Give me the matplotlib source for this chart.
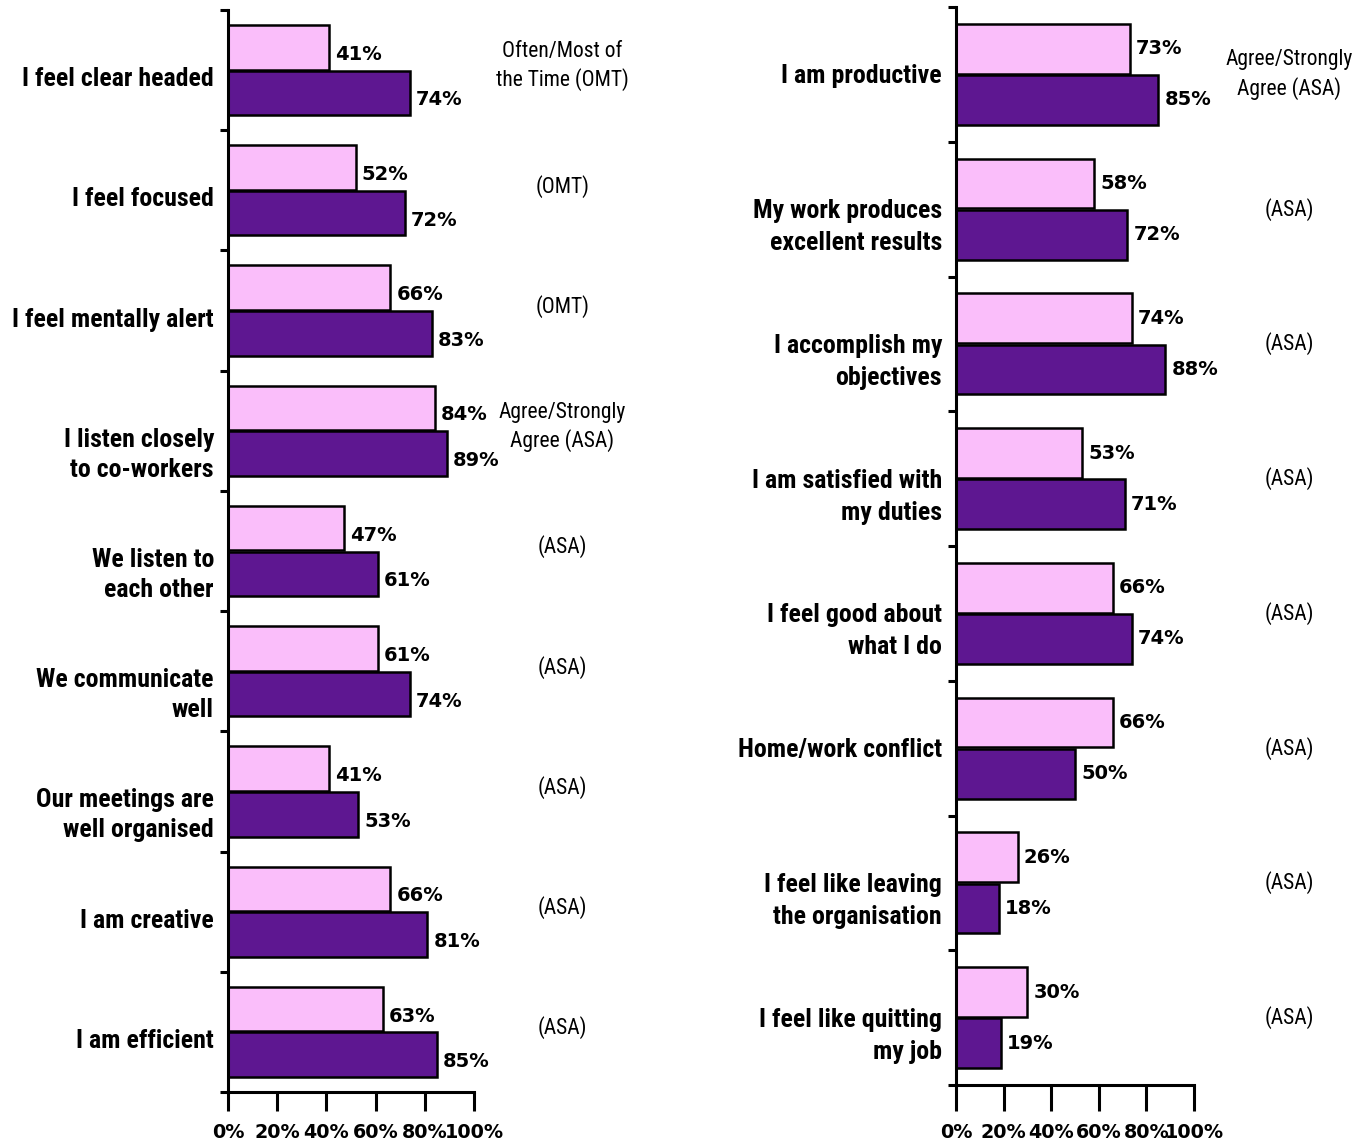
import matplotlib
matplotlib.use("Agg")
import matplotlib.pyplot as plt
from matplotlib import font_manager as fm

# ---------------- data ----------------
left_categories = ["I feel clear headed", "I feel focused", "I feel mentally alert",
                   "I listen closely\nto co-workers", "We listen to\neach other",
                   "We communicate\nwell", "Our meetings are\nwell organised",
                   "I am creative", "I am efficient"]
left_before = [41, 52, 66, 84, 47, 61, 41, 66, 63]
left_after = [74, 72, 83, 89, 61, 74, 53, 81, 85]
left_notes = ["Often/Most of\nthe Time (OMT)", "(OMT)", "(OMT)",
              "Agree/Strongly\nAgree (ASA)", "(ASA)", "(ASA)", "(ASA)", "(ASA)", "(ASA)"]

right_categories = ["I am productive", "My work produces\nexcellent results",
                    "I accomplish my\nobjectives", "I am satisfied with\nmy duties",
                    "I feel good about\nwhat I do", "Home/work conflict",
                    "I feel like leaving\nthe organisation", "I feel like quitting\nmy job"]
right_before = [73, 58, 74, 53, 66, 66, 26, 30]
right_after = [85, 72, 88, 71, 74, 50, 18, 19]
right_notes = ["Agree/Strongly\nAgree (ASA)", "(ASA)", "(ASA)", "(ASA)", "(ASA)",
               "(ASA)", "(ASA)", "(ASA)"]

x_ticks = [0, 20, 40, 60, 80, 100]
x_ticklabels = ["0%", "20%", "40%", "60%", "80%", "100%"]

# ---------------- fonts ----------------
_fonts = {}
for f in fm.fontManager.ttflist:
    _fonts.setdefault(f.name, set()).add(f.weight if isinstance(f.weight, int) else 400)


def pick(cands, need_bold):
    for c in cands:
        if c in _fonts:
            ws = _fonts[c]
            if need_bold and any(w >= 600 for w in ws):
                return c
            if not need_bold and any(w <= 500 for w in ws):
                return c
    return "DejaVu Sans"


NARROW_CANDS = ["Liberation Sans Narrow", "Arial Narrow", "Roboto Condensed", "PT Sans Narrow",
                "Archivo Narrow", "Pragati Narrow", "Fira Sans Condensed",
                "IBM Plex Sans Condensed", "Encode Sans Condensed", "Roboto"]
NARROW_B = [pick(NARROW_CANDS, True), "DejaVu Sans"]
NARROW_R = [pick(NARROW_CANDS, False), "DejaVu Sans"]
VALFONT = ["DejaVu Sans"]

PINK = "#FABEFA"
PURPLE = "#5E1791"
LABEL_SIZE = 18.6
NOTE_SIZE = 15.5

W, H = 1368, 1147
fig = plt.figure(figsize=(W / 100, H / 100), dpi=100)
fig.canvas.draw()
renderer = fig.canvas.get_renderer()


def line_step(family, weight, size, ls):
    t1 = fig.text(0, 0, "Ag", family=family, fontweight=weight, fontsize=size, linespacing=ls)
    t2 = fig.text(0, 0, "Ag\nAg", family=family, fontweight=weight, fontsize=size, linespacing=ls)
    d = t2.get_window_extent(renderer).height - t1.get_window_extent(renderer).height
    t1.remove()
    t2.remove()
    return d


def spacing_for(family, weight, size, target):
    s1 = line_step(family, weight, size, 1.0)
    s2 = line_step(family, weight, size, 2.0)
    if s2 - s1 <= 0:
        return 1.2, s1
    ls = 1.0 + (target - s1) / (s2 - s1)
    return ls, line_step(family, weight, size, ls)


def panel(rect, cats, before, after, notes, note_x, note_dy, note_step,
          label_dy, val_dy, xtick_len, lab_step):
    ax = fig.add_axes(rect)
    n = len(cats)
    centers = [i + 0.5 for i in range(n)]
    h = 0.37
    off = 0.19
    ax.barh([c - off for c in centers], before, height=h, color=PINK,
            edgecolor="black", linewidth=1.8, zorder=2)
    ax.barh([c + off for c in centers], after, height=h, color=PURPLE,
            edgecolor="black", linewidth=1.8, zorder=2)
    ax.set_xlim(0, 100)
    ax.set_ylim(n, 0)
    for s in ("top", "right"):
        ax.spines[s].set_visible(False)
    for s in ("left", "bottom"):
        ax.spines[s].set_linewidth(2.2)
        ax.spines[s].set_zorder(3)
    ax.set_yticks(range(n + 1))
    ax.set_yticklabels([])
    ax.tick_params(axis="y", direction="out", length=6, width=2.2)
    ax.set_xticks(x_ticks)
    ax.set_xticklabels(x_ticklabels, fontfamily=VALFONT, fontweight="bold", fontsize=13.8)
    ax.tick_params(axis="x", direction="out", length=xtick_len, width=2.2, pad=8)

    lab_ls, real_step = spacing_for(NARROW_B, "bold", LABEL_SIZE, lab_step)
    note_ls, _ = spacing_for(NARROW_R, "normal", NOTE_SIZE, note_step)

    for c, b, a, cat, note in zip(centers, before, after, cats, notes):
        ax.annotate(f"{b}%", xy=(b, c - off), xytext=(6, -val_dy), textcoords="offset pixels",
                    ha="left", va="center", fontfamily=VALFONT, fontweight="bold",
                    fontsize=14, annotation_clip=False)
        ax.annotate(f"{a}%", xy=(a, c + off), xytext=(6, -val_dy), textcoords="offset pixels",
                    ha="left", va="center", fontfamily=VALFONT, fontweight="bold",
                    fontsize=14, annotation_clip=False)
        nl = cat.count("\n") + 1
        # baseline of a multi-line text is its last line: move down by the extra lines
        ax.annotate(cat, xy=(0, c), xytext=(-14, -label_dy - (nl - 1) * real_step),
                    textcoords="offset pixels", ha="right", va="baseline",
                    fontfamily=NARROW_B, fontweight="bold", fontsize=LABEL_SIZE,
                    linespacing=lab_ls, annotation_clip=False)
        ax.annotate(note, xy=(note_x, c), xytext=(0, note_dy), textcoords="offset pixels",
                    ha="center", va="center", fontfamily=NARROW_R, fontsize=NOTE_SIZE,
                    linespacing=note_ls, annotation_clip=False)
    return ax


panel([228 / W, (H - 1092) / H, 246 / W, 1082 / H], left_categories, left_before,
      left_after, left_notes, note_x=136, note_dy=4, note_step=26,
      label_dy=16, val_dy=7, xtick_len=14, lab_step=30)
panel([956 / W, (H - 1085) / H, 238 / W, 1078 / H], right_categories, right_before,
      right_after, right_notes, note_x=140, note_dy=0, note_step=27,
      label_dy=9, val_dy=0, xtick_len=19, lab_step=32)

fig.savefig("out.png", dpi=100, facecolor="white")
